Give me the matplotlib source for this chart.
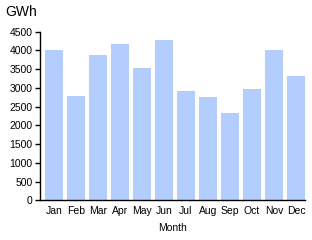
import matplotlib
matplotlib.use("Agg")
import matplotlib.pyplot as plt

months = ["Jan", "Feb", "Mar", "Apr", "May", "Jun", "Jul", "Aug", "Sep", "Oct", "Nov", "Dec"]
gwh = [4020, 2780, 3890, 4170, 3540, 4280, 2930, 2770, 2320, 2980, 4000, 3320]
yticks = [0, 500, 1000, 1500, 2000, 2500, 3000, 3500, 4000, 4500]

plt.rcParams['font.family'] = ['Liberation Sans', 'DejaVu Sans']

fig = plt.figure(figsize=(3.12, 2.4), dpi=100)
ax = fig.add_axes([40.3/312, 1-200.3/240, (305-40.3)/312, (200.3-31.7)/240])

x = list(range(len(months)))
ax.bar(x, gwh, width=0.82, color="#b3cdff", zorder=2)
ax.set_xlim(-0.62, 11.41)
ax.set_ylim(0, 4500)
ax.set_yticks(yticks)
ax.set_yticklabels([str(v) for v in yticks], fontsize=7.5)
ax.set_xticks(x)
ax.set_xticklabels(months, fontsize=7.5)
ax.tick_params(axis='x', length=0, pad=4)
ax.tick_params(axis='y', length=3.5, width=1, pad=2)
for s in ["top", "right"]:
    ax.spines[s].set_visible(False)
for s in ["left", "bottom"]:
    ax.spines[s].set_linewidth(1)
    ax.spines[s].set_color("black")
ax.set_xlabel("Month", fontsize=7.5, labelpad=5.5)
fig.text(5/312, 1-12/240, "GWh", fontsize=10, va="center", ha="left")

fig.savefig("out.png", dpi=100)
